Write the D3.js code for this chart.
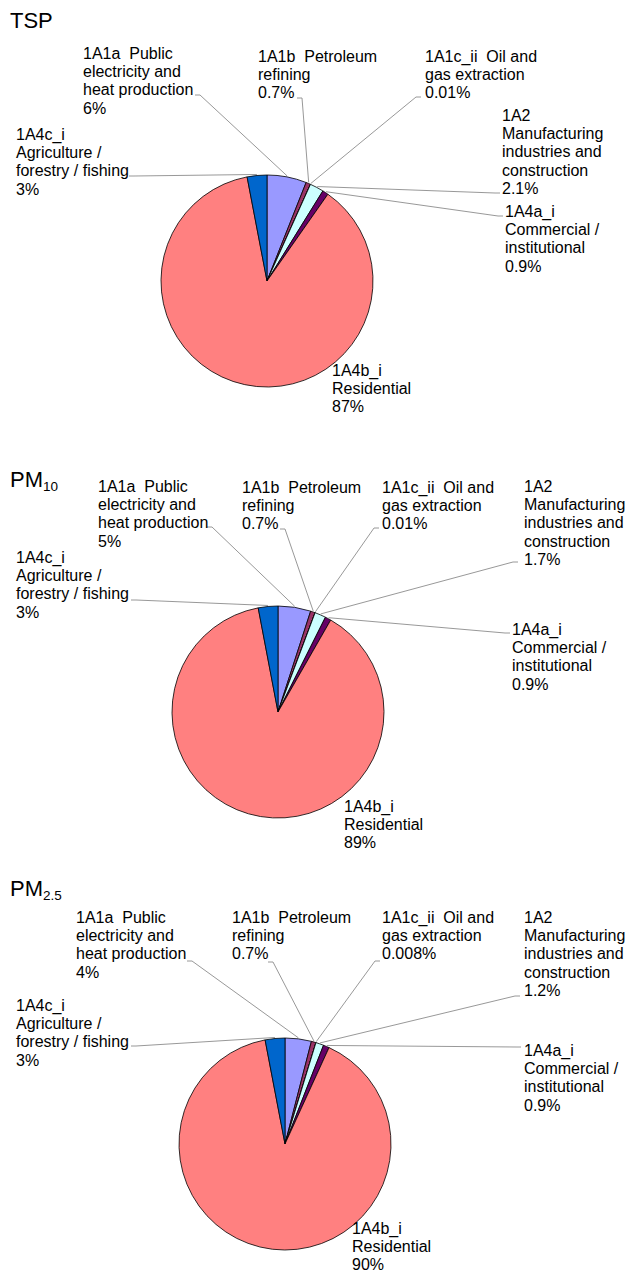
<!DOCTYPE html>
<html>
<head>
<meta charset="utf-8">
<script src="https://cdn.jsdelivr.net/npm/d3@7"></script>
<style>
  body { margin: 0; background: #fff; }
  svg text { font-family: "Liberation Sans", Arial, sans-serif; fill: #000; white-space: pre; }
</style>
</head>
<body>
<div id="chart"></div>
<script>
// sectors, clockwise from 12 o'clock
var sectors = ["1A1a", "1A1b", "1A1c_ii", "1A2", "1A4a_i", "1A4b_i", "1A4c_i"];
var sectorLines = [
  ["1A1a  Public", "electricity and", "heat production"],
  ["1A1b  Petroleum", "refining"],
  ["1A1c_ii  Oil and", "gas extraction"],
  ["1A2", "Manufacturing", "industries and", "construction"],
  ["1A4a_i", "Commercial /", "institutional"],
  ["1A4b_i", "Residential"],
  ["1A4c_i", "Agriculture /", "forestry / fishing"]
];
var sectorColors = ["#9999ff", "#993366", "#ffffcc", "#ccffff", "#660066", "#ff8080", "#0066cc"];

// share of emissions, %
var tspValues  = [6, 0.7, 0.01, 2.1, 0.9, 87, 3];
var pm10Values = [5, 0.7, 0.01, 1.7, 0.9, 89, 3];
var pm25Values = [4, 0.7, 0.008, 1.2, 0.9, 90, 3];

var pollutants = [
  { name: "TSP", sub: null, values: tspValues },
  { name: "PM", sub: "10", values: pm10Values },
  { name: "PM", sub: "2.5", values: pm25Values }
];

// layout (pixels) for each panel
var layout = [
  {
    titleY: 28, cx: 267, cy: 281,
    labels:  [[83, 59], [258, 62], [425, 62], [502, 121], [505, 217], [332, 376], [16, 140]],
    anchors: [[195, 95], [297, 98], [421, 97], [500, 193], [503, 216], null, [129, 176]]
  },
  {
    titleY: 487, cx: 278, cy: 712,
    labels:  [[98, 492], [242, 493], [382, 493], [524, 492], [512, 635], [344, 812], [16, 563]],
    anchors: [[207, 527], [280, 529], [379, 528], [518, 562], [510, 633], null, [131, 600]]
  },
  {
    titleY: 896, cx: 285, cy: 1144,
    labels:  [[76, 923], [232, 923], [382, 923], [524, 923], [524, 1056], [352, 1234], [16, 1011]],
    anchors: [[187, 961], [268, 962], [380, 961], [520, 996], [521, 1047], null, [131, 1046]]
  }
];

var width = 626, height = 1274;
var radius = 106;
var fontSize = 16, lineH = 18.2;

var svg = d3.select("#chart").append("svg")
  .attr("width", width)
  .attr("height", height);

var pie = d3.pie().sort(null).value(function(d) { return d; });
var arc = d3.arc().innerRadius(0).outerRadius(radius);

pollutants.forEach(function(p, k) {
  var L = layout[k];

  // title
  var t = svg.append("text")
    .attr("x", 10)
    .attr("y", L.titleY)
    .style("font-size", "22px");
  t.append("tspan").text(p.name);
  if (p.sub) {
    t.append("tspan").attr("dy", 4).style("font-size", "13.5px").text(p.sub);
  }

  var g = svg.append("g").attr("transform", "translate(" + L.cx + "," + L.cy + ")");
  var arcs = pie(p.values);

  g.selectAll("path.slice")
    .data(arcs)
    .enter()
    .append("path")
    .attr("class", "slice")
    .attr("d", arc)
    .attr("fill", function(d, i) { return sectorColors[i]; })
    .attr("stroke", "#000")
    .attr("stroke-width", 0.8)
    .attr("stroke-linejoin", "round");

  // leader lines
  arcs.forEach(function(a, i) {
    var an = L.anchors[i];
    if (!an) return;
    var mid = (a.startAngle + a.endAngle) / 2;
    var px = L.cx + Math.sin(mid) * (radius + 1);
    var py = L.cy - Math.cos(mid) * (radius + 1);
    var dir = px > an[0] ? 1 : -1;
    svg.append("path")
      .attr("d", "M" + px + "," + py + "L" + (an[0] + dir * 5) + "," + an[1] + "L" + an[0] + "," + an[1])
      .attr("fill", "none")
      .attr("stroke", "#8c8c8c")
      .attr("stroke-width", 0.9);
  });

  // labels
  arcs.forEach(function(a, i) {
    var pos = L.labels[i];
    var lines = sectorLines[i].concat([p.values[i] + "%"]);
    var txt = svg.append("text")
      .attr("x", pos[0])
      .attr("y", pos[1])
      .style("font-size", fontSize + "px");
    lines.forEach(function(s, j) {
      txt.append("tspan")
        .attr("x", pos[0])
        .attr("y", pos[1] + j * lineH)
        .text(s);
    });
  });
});
</script>
</body>
</html>
